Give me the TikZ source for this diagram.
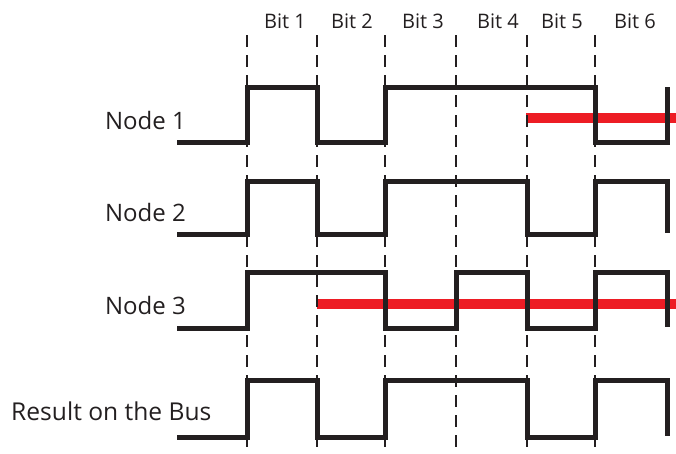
\documentclass[tikz,border=0pt]{standalone}
\usepackage{fontspec}
\setmainfont{Open Sans}
\definecolor{ink}{HTML}{231F20}
\definecolor{sigred}{HTML}{ED1C24}
\begin{document}
\begin{tikzpicture}[x=1pt,y=-1pt,
  wave/.style={draw=ink,line width=5pt,line join=miter,line cap=butt},
  redline/.style={draw=sigred,line width=10pt},
  bitline/.style={draw=ink,line width=2pt,dash pattern=on 12pt off 8pt},
  bitlabel/.style={font=\fontsize{20}{23}\selectfont,text=ink,anchor=base,inner sep=0pt},
  nodelabel/.style={font=\fontsize{24}{28}\selectfont,text=ink,anchor=base east,inner sep=0pt}]
\useasboundingbox (0,0) rectangle (676,453);
% red overriding bits
\draw[redline] (526,118) -- (676,118);
\draw[redline] (317,304) -- (676,304);
% bit boundaries
\foreach \x in {247,317,385,456,527,595}{
  \draw[bitline] (\x,35) -- (\x,453);
}
% bit labels
\node[bitlabel] (b1) at (285,28) {Bit 1};
\node[bitlabel] (b2) at (352,28) {Bit 2};
\node[bitlabel] (b3) at (423,28) {Bit 3};
\node[bitlabel] (b4) at (498,28) {Bit 4};
\node[bitlabel] (b5) at (562,28) {Bit 5};
\node[bitlabel] (b6) at (635,28) {Bit 6};
% row labels
\node[nodelabel] (n1) at (186,129) {Node 1};
\node[nodelabel] (n2) at (186,221) {Node 2};
\node[nodelabel] (n3) at (186,314) {Node 3};
\node[nodelabel,anchor=base west,font=\fontsize{24.6}{28}\selectfont] (bus) at (11,420) {Result on the Bus};
% waveforms
\draw[wave] (177,142) -- (247,142) -- (247,87) -- (317,87) -- (317,142) -- (385,142) -- (385,87) -- (595,87) -- (595,142) -- (667,142) -- (667,87);
\draw[wave] (177,234) -- (247,234) -- (247,181) -- (317,181) -- (317,234) -- (385,234) -- (385,181) -- (527,181) -- (527,234) -- (595,234) -- (595,181) -- (667,181) -- (667,233);
\draw[wave] (177,328) -- (247,328) -- (247,272) -- (385,272) -- (385,328) -- (456,328) -- (456,272) -- (527,272) -- (527,328) -- (595,328) -- (595,272) -- (667,272) -- (667,327);
\draw[wave] (177,437) -- (247,437) -- (247,380) -- (317,380) -- (317,437) -- (385,437) -- (385,380) -- (527,380) -- (527,437) -- (595,437) -- (595,380) -- (667,380) -- (667,436);
\end{tikzpicture}
\end{document}
